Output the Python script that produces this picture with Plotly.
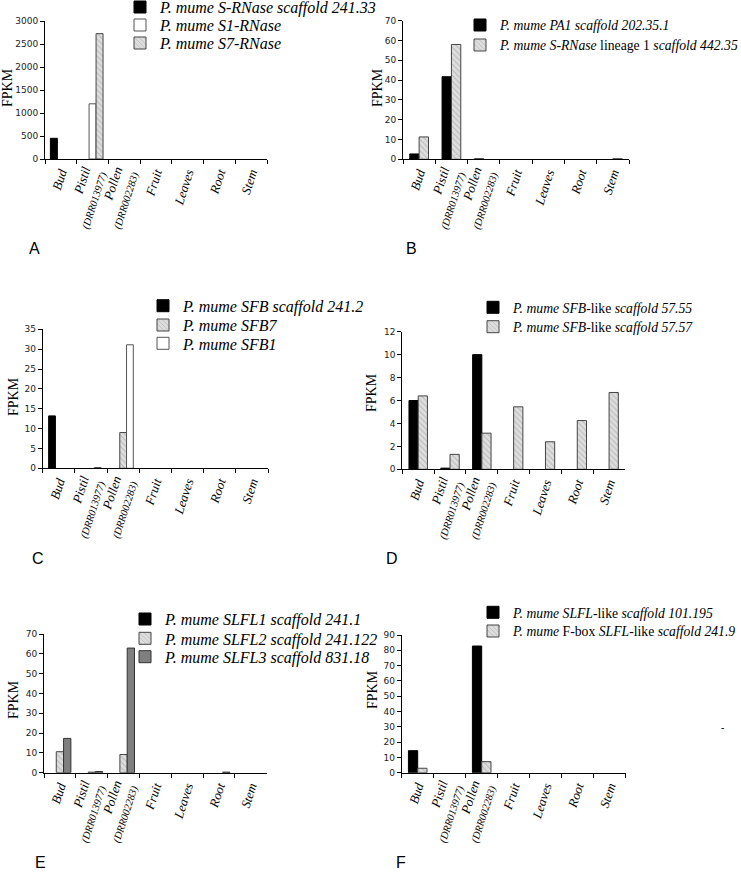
import plotly.graph_objects as go

W, H = 741, 872

categories = ["Bud", "Pistil", "Pollen", "Fruit", "Leaves", "Root", "Stem"]
tick_labels = [
    "<i>Bud</i>",
    "<i>Pistil</i><br><i><span style='font-size:10.5px'>(DRR013977)</span></i>",
    "<i>Pollen</i><br><i><span style='font-size:10.5px'>(DRR002283)</span></i>",
    "<i>Fruit</i>", "<i>Leaves</i>", "<i>Root</i>", "<i>Stem</i>",
]

# Panel A
a_names = ["<i>P. mume S-RNase scaffold 241.33</i>", "<i>P. mume S1-RNase</i>", "<i>P. mume S7-RNase</i>"]
a_scaffold = [450, 0, 0, 0, 0, 0, 0]
a_s1 = [0, 1200, 0, 0, 0, 0, 0]
a_s7 = [0, 2725, 0, 0, 0, 0, 0]

# Panel B
b_names = ["<i>P. mume PA1 scaffold 202.35.1</i>", "<i>P. mume S-RNase</i> lineage 1 <i>scaffold 442.35</i>"]
b_pa1 = [2.7, 41.7, 0.2, 0, 0, 0, 0]
b_srnase = [11.3, 58.0, 0, 0, 0, 0, 0.3]

# Panel C
c_names = ["<i>P. mume SFB scaffold 241.2</i>", "<i>P. mume SFB7</i>", "<i>P. mume SFB1</i>"]
c_sfb = [13.2, 0, 0, 0, 0, 0, 0]
c_sfb7 = [0, 0, 9.0, 0, 0, 0, 0]
c_sfb1 = [0, 0.2, 31.1, 0, 0, 0, 0]

# Panel D
d_names = ["<i>P. mume SFB</i>-like <i>scaffold 57.55</i>", "<i>P. mume SFB</i>-like <i>scaffold 57.57</i>"]
d_5755 = [6.0, 0.1, 10.0, 0, 0, 0, 0]
d_5757 = [6.4, 1.3, 3.15, 5.45, 2.4, 4.25, 6.7]

# Panel E
e_names = ["<i>P. mume SLFL1 scaffold 241.1</i>", "<i>P. mume SLFL2 scaffold 241.122</i>", "<i>P. mume SLFL3 scaffold 831.18</i>"]
e_slfl1 = [0, 0, 0, 0, 0, 0, 0]
e_slfl2 = [10.6, 0.3, 9.2, 0, 0, 0, 0]
e_slfl3 = [17.3, 0.6, 62.9, 0, 0, 0.3, 0]

# Panel F
f_names = ["<i>P. mume SLFL</i>-like <i>scaffold 101.195</i>", "<i>P. mume</i> F-box <i>SLFL</i>-like <i>scaffold 241.9</i>"]
f_101195 = [14.4, 0, 82.8, 0, 0, 0, 0]
f_2419 = [2.9, 0, 7.2, 0, 0, 0, 0]

STYLES = {
    "black": dict(color="#000000", line=dict(color="#000000", width=1)),
    "white": dict(color="#ffffff", line=dict(color="#555555", width=1)),
    "hatch": dict(color="#dedede", line=dict(color="#444444", width=1),
                  pattern=dict(shape="\\", fgcolor="#8f8f8f", size=4, solidity=0.25, fillmode="overlay")),
    "dark": dict(color="#7f7f7f", line=dict(color="#333333", width=1)),
}

# panel: (series, names, styles, bar width, ymax, dtick, x px range, y px range,
#         legend text-left px, legend item centre px list, legend font size)
panels = [
    ([a_scaffold, a_s1, a_s7], a_names, ["black", "white", "hatch"], 0.22, 3000, 500, (45, 267), (21, 159), 160, [7, 25, 43], 16),
    ([b_pa1, b_srnase], b_names, ["black", "hatch"], 0.29, 70, 10, (403, 629), (20.7, 159.3), 500, [25, 45], 13.7),
    ([c_sfb, c_sfb7, c_sfb1], c_names, ["black", "hatch", "white"], 0.21, 35, 5, (42.7, 268), (329.3, 468.3), 183, [305.7, 325, 343.3], 16),
    ([d_5755, d_5757], d_names, ["black", "hatch"], 0.29, 12, 2, (402.3, 625), (331.7, 469.3), 513, [307.3, 326.7], 13.7),
    ([e_slfl1, e_slfl2, e_slfl3], e_names, ["black", "hatch", "dark"], 0.23, 70, 10, (44, 266.7), (634, 772.7), 165, [619, 638.3, 656.7], 16),
    ([f_101195, f_2419], f_names, ["black", "hatch"], 0.29, 90, 10, (401.7, 625.7), (635, 772.7), 513, [612.3, 631], 13.7),
]

fig = go.Figure()
layout = dict(
    width=W, height=H, margin=dict(l=0, r=0, t=0, b=0, autoexpand=False),
    paper_bgcolor="white", plot_bgcolor="white", barmode="overlay",
    font=dict(family="Liberation Serif", color="#000000"),
)

leg_count = 0
for i, (series, names, styles, bw, ymax, dtick, (x0, x1), (y0, y1), ltx, ltys, lfs) in enumerate(panels):
    k = "" if i == 0 else str(i + 1)
    n = len(series)
    for j, (vals, name, st) in enumerate(zip(series, names, styles)):
        leg_count += 1
        leg = "legend" if leg_count == 1 else "legend" + str(leg_count)
        fig.add_trace(go.Bar(
            x=categories, y=[v if v else None for v in vals], name=name,
            width=bw, offset=-n * bw / 2 + j * bw,
            marker=STYLES[st], xaxis="x" + k, yaxis="y" + k, legend=leg, showlegend=True,
        ))
        top = ltys[j] - (0.5 * (max(lfs * 1.3, 16) + 3) + 5)
        layout[leg] = dict(
            x=(ltx - 40) / W, y=1 - top / H, xanchor="left", yanchor="top",
            bgcolor="rgba(0,0,0,0)", borderwidth=0,
            font=dict(family="Liberation Serif", size=lfs, color="#000"),
        )
    layout["xaxis" + k] = dict(
        domain=[x0 / W, x1 / W], anchor="y" + k, type="category",
        categoryorder="array", categoryarray=categories, range=[-0.5, 6.5],
        tickmode="array", tickvals=categories, ticktext=tick_labels,
        tickangle=-72, tickson="boundaries", ticks="outside", ticklen=4, tickcolor="#000",
        showline=True, linecolor="#000", linewidth=1, showgrid=False, zeroline=False,
        tickfont=dict(family="Liberation Serif", size=13, color="#000"), fixedrange=True,
        automargin=False,
    )
    layout["yaxis" + k] = dict(
        domain=[1 - y1 / H, 1 - y0 / H], anchor="x" + k, range=[0, ymax], dtick=dtick,
        ticks="outside", ticklen=4, tickcolor="#000", showline=True, linecolor="#000",
        linewidth=1, showgrid=False, zeroline=False,
        tickfont=dict(family="DejaVu Sans", size=9, color="#222"), fixedrange=True,
        automargin=False,
    )

fig.update_layout(**layout)

# y-axis titles
for (x, y) in [(7, 88), (377, 88), (13, 397), (372, 393), (13, 700), (372, 690)]:
    fig.add_annotation(text="FPKM", x=x / W, y=1 - y / H, xref="paper", yref="paper",
                       textangle=-90, showarrow=False, xanchor="center", yanchor="middle",
                       font=dict(family="Liberation Serif", size=14, color="#000"))

# panel letters
for (lab, x, y) in [("A", 34, 248), ("B", 411, 248), ("C", 38, 558), ("D", 392, 558), ("E", 40, 862), ("F", 401, 862)]:
    fig.add_annotation(text=lab, x=x / W, y=1 - y / H, xref="paper", yref="paper",
                       showarrow=False, xanchor="center", yanchor="middle",
                       font=dict(family="Liberation Sans", size=16, color="#000"))

fig.add_annotation(text="-", x=725.5 / W, y=1 - 735 / H, xref="paper", yref="paper",
                   showarrow=False, font=dict(family="Liberation Sans", size=10, color="#000"))

fig.write_html("out.html", config={"displayModeBar": False},
               post_script="document.body.style.margin='0';")
